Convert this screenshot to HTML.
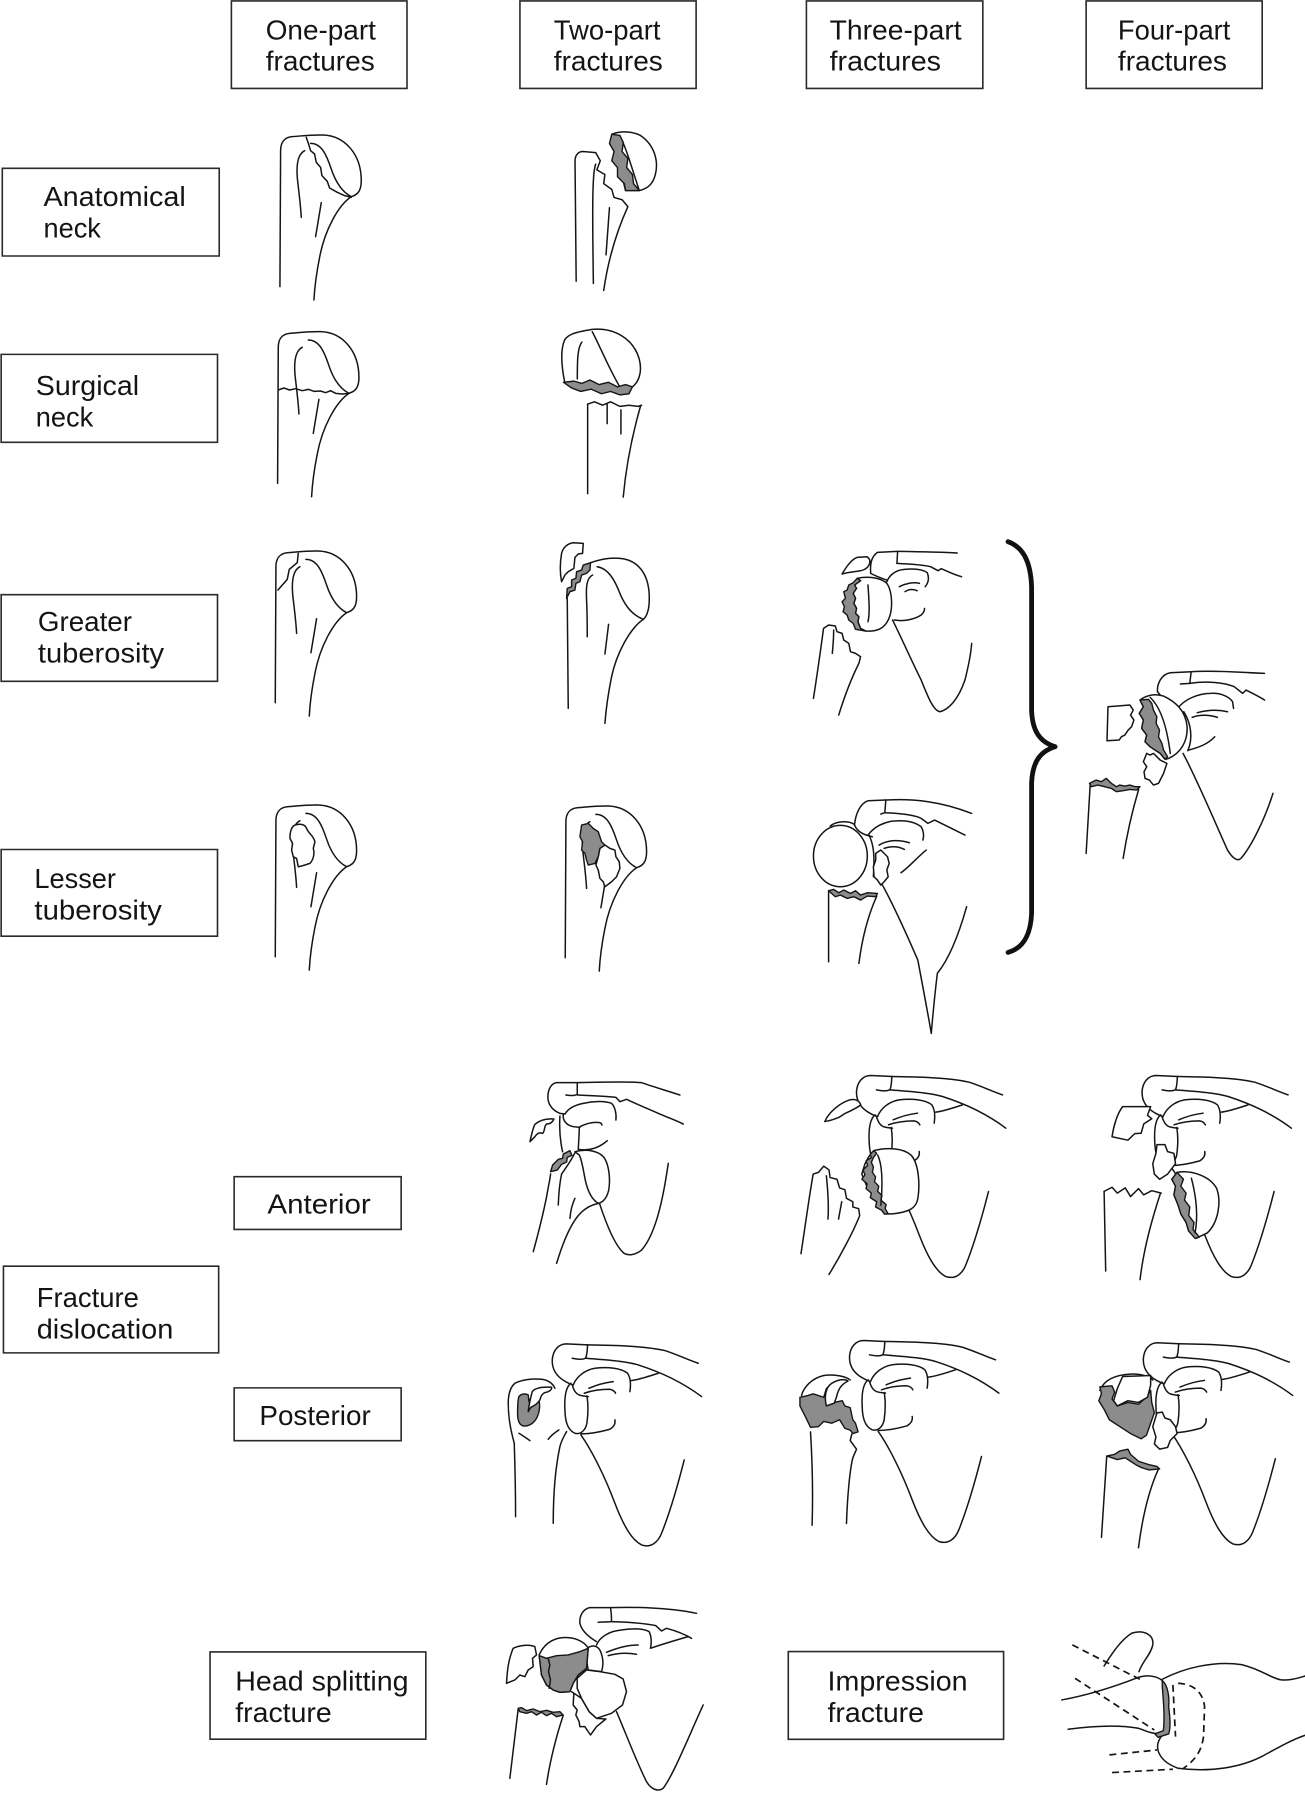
<!DOCTYPE html>
<html><head><meta charset="utf-8">
<style>
html,body{margin:0;padding:0;background:#fff;}
svg{display:block}
.b{fill:none;stroke:#151515;stroke-width:1.5px;vector-effect:non-scaling-stroke;stroke-linejoin:round;stroke-linecap:round}
.w{fill:#fff;stroke:#151515;stroke-width:1.5px;vector-effect:non-scaling-stroke;stroke-linejoin:round}
.g{fill:#8c8c8c;stroke:#151515;stroke-width:1.4px;vector-effect:non-scaling-stroke;stroke-linejoin:round}
.d{fill:none;stroke:#151515;stroke-width:1.5px;stroke-dasharray:6 4}
.bx{fill:#fff;stroke:#2a2a2a;stroke-width:1.6px;vector-effect:non-scaling-stroke}
text{font-family:"Liberation Sans",Arial,sans-serif;font-size:24.5px;fill:#141414}
</style></head>
<body>
<svg width="1305" height="1800" viewBox="0 0 1137 1568" preserveAspectRatio="none">
<defs>
<g id="hum">
<path class="b" d="M226,548 L228,140 C228,115 240,100 262,98 C290,96 320,92 355,93 C420,95 470,150 470,230 C470,260 460,272 440,278 C400,305 360,380 345,460 C335,510 330,550 328,588"/>
<path class="b" d="M318,118 C350,118 365,150 380,195 C395,240 415,265 440,278"/>
<path class="b" d="M300,140 C280,150 275,180 278,220 C282,260 288,300 290,340"/>
<path class="b" d="M350,296 L333,398"/>
</g>
<g id="scap">
<path class="b" d="M278,45 L215,42 C190,42 174,62 172,90 C171,118 185,140 212,155 C220,160 228,163 235,165"/>
<path class="b" d="M278,45 C277,60 277,75 272,85 C262,90 245,88 232,85"/>
<path class="b" d="M278,45 C350,46 450,48 510,62 C550,75 580,90 610,100"/>
<path class="b" d="M272,85 C330,90 390,93 430,105 C470,118 500,130 530,145 C570,165 600,185 620,200"/>
<path class="b" d="M235,165 C245,140 270,120 300,115 C340,110 380,115 398,130 C408,145 408,165 405,185"/>
<path class="b" d="M408,152 C430,150 460,140 490,130"/>
<path class="b" d="M268,190 C290,182 315,178 345,178 C355,180 360,186 362,190"/>
<path class="b" d="M282,175 C305,165 330,158 355,155"/>
<path class="b" d="M228,160 C212,172 208,200 210,240 C211,275 218,300 240,310 C258,315 272,300 276,280 C280,250 280,220 276,198"/>
<path class="b" d="M232,165 C236,180 242,192 255,196 C265,199 272,199 280,200"/>
<path class="b" d="M258,312 C290,312 320,305 345,298 C358,290 362,280 360,270"/>
<path class="b" d="M258,315 C290,360 330,440 360,520 C385,585 410,630 440,645 C470,655 490,635 500,610 C520,560 545,480 568,390"/>
</g>
</defs>

<!-- Header boxes -->
<rect class="bx" x="201.6" y="0.8" width="153" height="76.2"/>
<text x="231.5" y="34.3" textLength="96" lengthAdjust="spacingAndGlyphs">One-part</text><text x="231.5" y="61.3" textLength="95" lengthAdjust="spacingAndGlyphs">fractures</text>
<rect class="bx" x="453" y="0.8" width="153.5" height="76.2"/>
<text x="482.5" y="34.3" textLength="93" lengthAdjust="spacingAndGlyphs">Two-part</text><text x="482.5" y="61.3" textLength="95" lengthAdjust="spacingAndGlyphs">fractures</text>
<rect class="bx" x="702.6" y="0.8" width="153.7" height="76.2"/>
<text x="722.8" y="34.3" textLength="115" lengthAdjust="spacingAndGlyphs">Three-part</text><text x="722.8" y="61.3" textLength="97" lengthAdjust="spacingAndGlyphs">fractures</text>
<rect class="bx" x="946.3" y="0.8" width="153.4" height="76.2"/>
<text x="974" y="34.3" textLength="98" lengthAdjust="spacingAndGlyphs">Four-part</text><text x="974" y="61.3" textLength="95" lengthAdjust="spacingAndGlyphs">fractures</text>

<!-- Side boxes -->
<rect class="bx" x="2" y="146.6" width="189" height="76.4"/>
<text x="37.9" y="179.5" textLength="124" lengthAdjust="spacingAndGlyphs">Anatomical</text><text x="37.9" y="206.7" textLength="50" lengthAdjust="spacingAndGlyphs">neck</text>
<rect class="bx" x="1" y="308.7" width="188.5" height="76.6"/>
<text x="31.2" y="344" textLength="90" lengthAdjust="spacingAndGlyphs">Surgical</text><text x="31.2" y="371.7" textLength="50" lengthAdjust="spacingAndGlyphs">neck</text>
<rect class="bx" x="1" y="518" width="188.5" height="75.5"/>
<text x="33" y="549.5" textLength="82" lengthAdjust="spacingAndGlyphs">Greater</text><text x="33" y="577" textLength="110" lengthAdjust="spacingAndGlyphs">tuberosity</text>
<rect class="bx" x="1" y="740" width="188.5" height="75.5"/>
<text x="30" y="773.5" textLength="71" lengthAdjust="spacingAndGlyphs">Lesser</text><text x="30" y="801" textLength="111" lengthAdjust="spacingAndGlyphs">tuberosity</text>
<rect class="bx" x="204" y="1025" width="145.5" height="46"/>
<text x="233" y="1057" textLength="90" lengthAdjust="spacingAndGlyphs">Anterior</text>
<rect class="bx" x="3" y="1103" width="187.5" height="75.5"/>
<text x="32" y="1138.5" textLength="89" lengthAdjust="spacingAndGlyphs">Fracture</text><text x="32" y="1166" textLength="119" lengthAdjust="spacingAndGlyphs">dislocation</text>
<rect class="bx" x="204" y="1209" width="145.5" height="46"/>
<text x="226" y="1241.5" textLength="97" lengthAdjust="spacingAndGlyphs">Posterior</text>
<rect class="bx" x="183" y="1439" width="188" height="76"/>
<text x="205" y="1472.5" textLength="151" lengthAdjust="spacingAndGlyphs">Head splitting</text><text x="205" y="1500" textLength="84" lengthAdjust="spacingAndGlyphs">fracture</text>
<rect class="bx" x="686.8" y="1438.7" width="187.6" height="76.4"/>
<text x="721" y="1472.5" textLength="122" lengthAdjust="spacingAndGlyphs">Impression</text><text x="721" y="1500" textLength="84" lengthAdjust="spacingAndGlyphs">fracture</text>

<!-- Humeri cols 1-2 (zoom4 units) -->
<g transform="translate(174.2,453) scale(0.2904)">
  <g transform="translate(14,-1248)">
    <use href="#hum"/>
    <path class="b" d="M305,100 L312,120 L318,140 L330,150 L335,175 L348,190 L352,215 L368,232 L375,252 L398,265 L420,275 L440,280"/>
  </g>
  <g transform="translate(7,-658)">
    <use href="#hum"/>
    <path class="b" d="M228,268 L245,262 L262,268 L280,264 L300,270 L318,266 L335,272 L355,271 L370,276 L385,270 L400,278 L420,280 L440,278"/>
  </g>
  <use href="#hum"/>
  <path class="b" d="M295,100 L292,128 L268,148 L262,178 L234,210"/>
  <g transform="translate(0,762)">
    <use href="#hum"/>
    <path class="w" d="M285,153 C300,148 315,150 320,163 C325,178 340,183 345,203 L340,223 C345,238 340,258 330,268 C315,273 300,278 295,278 L290,253 L280,248 L275,228 L278,208 L270,193 C270,173 275,158 285,153 Z"/>
  </g>
  <!-- col2 greater -->
  <path class="b" d="M1105,565 L1102,235"/>
  <path class="b" d="M1172,128 C1200,118 1230,112 1260,115 C1320,120 1350,170 1348,240 C1348,270 1340,290 1330,298 C1290,325 1250,400 1235,470 C1225,520 1218,570 1215,610"/>
  <path class="b" d="M1192,140 C1225,145 1245,180 1262,225 C1280,265 1300,285 1330,298"/>
  <path class="b" d="M1178,165 C1160,175 1158,200 1160,240 C1162,280 1162,320 1162,350"/>
  <path class="b" d="M1226,313 L1215,402"/>
  <path class="g" d="M1100,235 L1102,205 L1115,200 L1115,180 L1128,175 L1130,155 L1145,150 L1150,135 L1172,128 L1170,150 L1160,160 L1145,165 L1140,185 L1128,190 L1125,210 L1110,215 Z"/>
  <path class="w" d="M1085,185 C1080,160 1080,130 1085,100 C1090,80 1105,70 1120,68 L1150,70 L1148,100 L1135,102 L1125,112 L1122,145 L1105,155 L1095,165 Z"/>
  <!-- col2 lesser -->
  <g transform="translate(870,765)"><use href="#hum"/></g>
  <path class="w" d="M1215,975 L1230,985 L1245,990 L1248,1010 L1258,1025 L1260,1045 L1250,1070 L1235,1085 L1215,1100 L1210,1085 L1200,1075 L1195,1050 L1188,1035 L1195,1010 L1200,985 Z"/>
  <path class="g" d="M1145,915 L1165,910 L1180,925 L1195,935 L1205,965 L1215,975 L1200,985 L1195,1010 L1185,1030 L1165,1035 L1160,1020 L1155,1000 L1145,990 L1148,965 L1140,950 Z"/>
</g>

<!-- col2 anatomical (ref coords) -->
<path class="b" d="M502,245 L501,140 C501,135 504,132 508,132 L519,133"/>
<path class="b" d="M519,133 L523,140 L520,148 L527,152 L526,160 L533,165 L535,172 L542,174 L547,180"/>
<path class="b" d="M547,180 C538,200 530,225 526,253"/>
<path class="b" d="M519,143 C516,150 516,180 517,247"/>
<path class="b" d="M531,181 L528,222"/>
<path class="w" d="M533,117 C540,114 550,114 558,118 C570,126 574,140 571,152 C569,160 565,164 557,166 L545,166 Z"/>
<path class="b" d="M540,118 C546,130 550,145 557,166"/>
<path class="g" d="M533,117 L531,125 L535,132 L533,140 L538,146 L538,154 L544,160 L545,166 L557,166 L552,160 L551,152 L546,146 L547,138 L542,132 L543,124 L540,118 Z"/>

<!-- col2 surgical (ref coords) -->
<path class="b" d="M492,333 C489,318 488,305 492,296 C496,290 505,289 515,287 C535,285 552,295 557,313 C560,325 556,333 551,337"/>
<path class="b" d="M516,289 C522,300 530,320 540,337"/>
<path class="b" d="M507,298 C503,303 503,315 503,330"/>
<path class="g" d="M491,333 L500,332 L507,334 L514,331 L522,335 L530,333 L538,337 L545,335 L551,337 L548,343 L540,344 L532,341 L524,343 L515,339 L506,341 L498,338 Z"/>
<path class="b" d="M512,352 L518,350 L525,353 L532,350 L540,354 L548,353 L556,354 L559,353"/>
<path class="b" d="M512,352 L512,430"/>
<path class="b" d="M558,354 C552,375 546,400 543,433"/>
<path class="b" d="M529,352 L529,369"/>
<path class="b" d="M541,357 L541,378"/>

<!-- Upper three-/four-part drawings (zoom3 units) -->
<g transform="translate(679.4,453) scale(0.2933,0.2904)">
  <!-- three-part greater -->
  <path class="b" d="M270,160 C268,130 272,110 290,97 L350,94"/>
  <path class="b" d="M350,94 C420,95 480,96 527,99"/>
  <path class="b" d="M350,94 L348,130"/>
  <path class="b" d="M348,130 C390,132 425,134 448,140 L470,152 L480,146 C500,155 520,165 540,170"/>
  <path class="b" d="M270,160 C285,168 300,174 318,180"/>
  <path class="b" d="M318,185 C325,165 345,150 370,148 C400,145 425,148 438,158 C445,175 440,190 432,200"/>
  <path class="b" d="M355,200 C370,192 395,185 415,190"/>
  <path class="b" d="M372,215 C385,205 400,208 408,212"/>
  <path class="b" d="M340,300 C370,305 400,298 420,285 C428,278 430,270 430,265"/>
  <path class="b" d="M335,300 C360,350 390,420 420,480 C440,530 455,570 475,575 C500,570 530,540 550,480 C560,440 568,400 570,370"/>
  <path class="w" d="M230,175 C260,168 300,172 318,190 C335,215 337,270 322,300 C310,325 290,335 255,333 L240,325 L232,305 L235,290 L225,280 L228,265 L220,250 L225,235 L218,220 L228,205 L222,195 L240,182 Z"/>
  <path class="g" d="M230,175 L218,188 L205,195 L200,210 L190,215 L195,235 L185,245 L192,260 L188,275 L200,285 L205,300 L218,310 L225,328 L255,333 L240,325 L232,305 L235,290 L225,280 L228,265 L220,250 L225,235 L218,220 L228,205 L222,195 L240,182 Z"/>
  <path class="b" d="M262,195 C265,240 268,280 262,305"/>
  <path class="w" d="M185,162 C195,145 210,120 230,112 L258,110 C268,115 270,125 265,135 C260,145 250,150 240,152 L200,158 Z"/>
  <path class="b" d="M100,535 C110,470 120,400 130,325 L145,315 L165,318 L170,335 L185,340 L190,360 L205,370 L210,395 L225,400 L240,410 L235,430 C215,470 195,520 175,585"/>
  <path class="b" d="M160,330 C160,360 158,380 156,400"/>

  <!-- three-part lesser -->
  <path class="b" d="M222,915 C225,880 240,850 262,842 L315,840"/>
  <path class="b" d="M315,840 C400,835 480,845 570,880"/>
  <path class="b" d="M315,840 L312,878 L300,882"/>
  <path class="b" d="M312,878 C360,880 400,885 420,895 L440,910 L460,900 C490,915 520,930 550,945"/>
  <path class="b" d="M222,915 C230,935 250,945 275,950"/>
  <path class="b" d="M262,945 C280,920 310,905 340,903 C370,900 400,905 420,920 C428,935 428,950 425,960"/>
  <path class="b" d="M295,975 C320,960 350,958 385,968"/>
  <path class="b" d="M310,985 C330,978 350,978 370,988"/>
  <path class="b" d="M360,1058 C385,1040 410,1010 435,990"/>
  <path class="b" d="M265,945 C280,975 282,1010 278,1070"/>
  <path class="b" d="M150,918 C165,905 200,900 220,912"/>
  <ellipse class="w" cx="180" cy="1008" rx="80" ry="92"/>
  <path class="w" d="M285,1000 L300,990 L310,1000 L320,1010 L325,1030 L318,1050 L322,1070 L310,1085 L300,1095 L290,1080 L280,1070 L278,1040 L285,1020 Z"/>
  <path class="g" d="M145,1112 L160,1108 L175,1118 L190,1110 L210,1120 L225,1112 L240,1125 L260,1118 L290,1120 L285,1130 L260,1128 L240,1140 L220,1130 L200,1135 L180,1125 L165,1130 Z"/>
  <path class="b" d="M145,1112 L145,1325"/>
  <path class="b" d="M288,1128 C265,1180 245,1250 235,1330"/>
  <path class="b" d="M305,1095 C340,1160 380,1250 410,1320 C425,1400 440,1480 450,1540 C455,1480 462,1410 468,1360 C500,1320 530,1250 555,1160"/>

  <!-- four-part -->
  <path class="b" d="M1122,515 C1120,490 1135,462 1160,458 L1222,455"/>
  <path class="b" d="M1222,455 C1300,450 1380,458 1440,460"/>
  <path class="b" d="M1222,455 L1218,490 L1190,492"/>
  <path class="b" d="M1218,490 C1270,482 1320,488 1350,500 L1375,520 L1385,510 C1405,520 1425,530 1440,540"/>
  <path class="b" d="M1122,515 C1140,540 1160,555 1182,565"/>
  <path class="b" d="M1182,565 C1200,540 1240,520 1280,520 C1310,518 1335,530 1345,545 L1348,565"/>
  <path class="b" d="M1240,578 C1270,570 1300,568 1330,575"/>
  <path class="b" d="M1225,592 C1250,582 1280,585 1300,592"/>
  <path class="b" d="M1215,690 C1245,682 1272,672 1292,650"/>
  <path class="b" d="M1200,575 C1222,610 1228,655 1212,692"/>
  <path class="b" d="M1198,700 C1240,780 1290,900 1330,990 C1345,1015 1360,1025 1370,1015 C1400,980 1440,900 1465,820"/>
  <path class="w" d="M1070,540 C1090,525 1115,520 1140,528 C1175,545 1205,570 1210,620 C1212,665 1190,700 1155,715 L1145,718 L1130,700 L1115,690 L1100,680 L1085,665 L1090,645 L1075,625 L1080,600 L1068,580 L1080,560 Z"/>
  <path class="g" d="M1070,540 L1080,560 L1068,580 L1080,600 L1075,625 L1090,645 L1085,665 L1100,680 L1115,690 L1130,700 L1145,718 L1152,710 L1140,690 L1135,670 L1125,650 L1128,630 L1118,610 L1120,590 L1110,570 L1105,550 L1095,538 Z"/>
  <path class="b" d="M1100,532 C1130,560 1150,620 1160,700"/>
  <path class="w" d="M975,560 L1040,555 L1050,570 L1042,585 L1052,600 L1045,620 L1035,630 L1025,645 L1015,650 L1008,660 L972,662 Z"/>
  <path class="w" d="M1090,700 L1100,705 L1110,700 L1120,710 L1130,720 L1150,730 L1140,760 L1125,790 L1110,795 L1098,780 L1085,775 L1082,755 L1090,740 L1080,725 Z"/>
  <path class="g" d="M920,790 L940,780 L955,785 L970,775 L985,790 L1000,800 L1010,795 L1025,798 L1040,795 L1055,800 L1070,800 L1060,810 L1040,808 L1020,812 L1000,815 L985,805 L965,800 L945,795 L925,800 Z"/>
  <path class="b" d="M922,795 L910,1000"/>
  <path class="b" d="M1066,808 C1045,880 1030,950 1020,1015"/>

  <!-- brace -->
  <path d="M678,65 C720,80 745,120 748,200 L748,570 C750,630 770,665 818,680 C770,695 750,730 748,790 L748,1180 C745,1250 720,1285 678,1297" fill="none" stroke="#111" stroke-width="4.8" style="vector-effect:non-scaling-stroke" stroke-linecap="round" stroke-linejoin="round"/>
</g>

<!-- Scapula templates for dislocation rows -->
<use href="#scap" transform="translate(696.3,924.7) scale(0.2904)"/>
<use href="#scap" transform="translate(945.1,924.7) scale(0.2904)"/>
<use href="#scap" transform="translate(431.2,1158.5) scale(0.2904)"/>
<use href="#scap" transform="translate(690.2,1155.5) scale(0.2904)"/>
<use href="#scap" transform="translate(946.2,1157.5) scale(0.2904)"/>

<!-- Posterior two-part humerus (zoom8 units) -->
<g transform="translate(431.2,1158.5) scale(0.2904)">
  <path class="b" d="M62,560 C62,480 60,400 58,340 C50,310 40,270 40,220 C40,190 48,170 60,160 C80,150 110,145 140,148 C160,150 175,162 180,175"/>
  <path class="b" d="M175,580 C175,500 180,420 195,350 C200,330 208,318 215,305"/>
  <path class="b" d="M72,310 C85,318 95,325 105,332"/>
  <path class="b" d="M160,328 C170,315 180,308 192,300"/>
  <path class="g" d="M72,200 C78,192 90,190 100,195 L102,215 C108,200 118,195 128,205 C138,220 135,245 125,265 C115,282 100,290 85,288 C72,285 68,270 68,250 C68,230 68,212 72,200 Z"/>
  <path class="w" d="M100,245 C102,225 108,200 112,185 C120,175 140,170 170,172 C172,178 165,185 150,188 C140,192 138,200 135,210 C128,222 118,228 108,232 Z"/>
</g>

<!-- Dislocation rows humerus parts (zoom5 units) -->
<g transform="translate(418.1,923.3) scale(0.4609,0.3014)">
  <!-- anterior three-part -->
  <path class="w" d="M652,178 C660,150 680,125 700,115 C712,112 718,120 720,130 C712,140 700,148 690,155 L680,165 C672,170 665,175 652,178 Z"/>
  <path class="w" d="M745,262 C770,252 800,255 815,275 C830,300 832,360 828,400 C825,430 810,440 780,445 L772,445 L762,440 L755,420 L745,400 L738,380 L730,360 L722,330 L728,300 L735,280 Z"/>
  <path class="g" d="M745,262 L738,272 L740,282 L730,292 L733,305 L724,318 L728,332 L722,345 L732,358 L730,372 L740,385 L738,398 L750,410 L748,425 L760,435 L765,446 L772,445 L766,430 L768,418 L758,405 L760,392 L752,380 L754,365 L746,352 L748,338 L742,325 L744,310 L740,296 L744,282 L750,270 Z"/>
  <path class="b" d="M752,275 C760,300 762,350 758,420"/>
  <path class="b" d="M607,560 C615,480 622,400 630,330 L640,325 L650,307 L660,318 L662,340 L675,345 L680,370 L690,375 L693,400 L705,410 L705,425 L716,430 L718,450 C705,500 680,570 660,620"/>
  <path class="b" d="M655,335 C658,380 660,420 658,460"/>
  <path class="b" d="M684,410 L678,460"/>

  <!-- anterior four-part -->
  <path class="w" d="M1195,222 C1198,190 1205,155 1215,135 L1268,135 L1262,160 L1270,170 L1255,185 L1250,212 L1238,213 L1225,232 Z"/>
  <path class="w" d="M1280,245 L1295,245 L1300,265 L1312,270 L1315,300 L1300,330 L1285,345 L1275,330 L1272,300 L1278,270 Z"/>
  <path class="w" d="M1318,325 C1345,318 1380,335 1393,372 C1402,410 1396,470 1375,500 L1355,515 L1340,495 L1335,470 L1325,445 L1320,420 L1312,390 L1315,365 L1308,345 Z"/>
  <path class="g" d="M1318,325 L1330,345 L1325,365 L1335,385 L1332,405 L1342,425 L1340,450 L1350,470 L1348,490 L1360,512 L1352,516 L1340,495 L1335,470 L1325,445 L1320,420 L1312,390 L1315,365 L1308,345 Z"/>
  <path class="b" d="M1345,342 C1355,400 1358,450 1352,500"/>
  <path class="b" d="M1180,380 L1195,368 L1205,385 L1220,370 L1230,395 L1245,372 L1255,390 L1270,378 L1288,385"/>
  <path class="b" d="M1183,610 L1180,380"/>
  <path class="b" d="M1248,635 C1252,580 1262,500 1286,388"/>

  <!-- posterior three-part -->
  <path class="b" d="M628,1345 C630,1250 628,1150 625,1075"/>
  <path class="b" d="M608,970 C612,945 628,920 650,912 C672,908 692,915 700,925"/>
  <path class="g" d="M605,975 L620,970 L630,965 L650,975 L655,950 L665,935 L690,925 L678,940 L672,975 L670,990 L685,985 L690,1000 L700,1005 L705,1040 L710,1050 L715,1075 L705,1080 L700,1070 L690,1065 L680,1040 L665,1050 L650,1045 L640,1060 L625,1062 L615,1030 L605,1000 Z"/>
  <path class="w" d="M655,1000 C650,970 655,945 665,935 C675,925 688,920 696,928 C686,936 678,946 674,975 L670,992 Z"/>
  <path class="b" d="M693,1340 C695,1250 700,1180 705,1150 L712,1125 L700,1100 L703,1082"/>

  <!-- posterior four-part -->
  <path class="b" d="M1172,955 C1180,925 1200,910 1230,908 C1250,906 1265,915 1272,925"/>
  <path class="g" d="M1172,945 L1195,942 L1200,960 L1195,980 L1205,1000 L1225,990 L1245,995 L1260,975 L1268,955 L1270,990 L1275,1020 L1268,1050 L1260,1085 L1250,1095 L1230,1080 L1210,1060 L1190,1040 L1180,1010 L1170,985 L1175,965 Z"/>
  <path class="w" d="M1198,985 L1205,950 L1215,915 L1268,912 L1268,940 L1262,975 L1245,990 L1225,985 L1205,1000 Z"/>
  <path class="w" d="M1280,1020 L1290,1018 L1295,1035 L1305,1040 L1315,1060 L1318,1080 L1305,1100 L1300,1120 L1285,1125 L1275,1110 L1278,1090 L1272,1060 Z"/>
  <path class="g" d="M1185,1145 L1200,1140 L1210,1130 L1225,1125 L1230,1140 L1245,1160 L1255,1165 L1265,1170 L1280,1175 L1285,1182 L1265,1185 L1250,1178 L1240,1170 L1230,1160 L1220,1150 L1205,1155 Z"/>
  <path class="b" d="M1175,1380 L1185,1145"/>
  <path class="b" d="M1245,1410 C1250,1350 1260,1260 1282,1185"/>
</g>

<!-- Anterior two-part (zoom9 units) -->
<g transform="translate(453,932.1) scale(0.2904)">
  <path class="b" d="M172,38 L110,38 C95,40 86,55 84,75 C82,100 95,120 120,130 L135,132"/>
  <path class="b" d="M172,38 L172,72 C165,78 150,77 138,75"/>
  <path class="b" d="M172,38 C250,36 330,34 365,38 C400,50 440,62 480,75"/>
  <path class="b" d="M172,75 C220,77 260,78 288,82 L300,95 L320,88 C345,100 380,115 420,132 C450,145 470,152 490,162"/>
  <path class="b" d="M135,132 C145,115 165,105 190,100 C220,93 255,92 275,100 C285,110 290,130 288,150"/>
  <path class="b" d="M130,135 C128,150 138,165 160,170 L180,172"/>
  <path class="b" d="M180,170 C200,160 220,155 240,158 C245,160 246,163 246,165"/>
  <path class="b" d="M120,138 C118,170 120,210 128,245"/>
  <path class="b" d="M178,175 C178,195 176,215 175,238 C200,242 230,240 262,212"/>
  <path class="b" d="M238,398 C255,450 280,520 310,548 C325,558 345,556 365,540 C400,500 425,420 445,280"/>
  <path class="w" d="M165,245 C200,236 235,242 252,262 C268,285 272,330 266,362 C260,385 250,396 236,400 C220,392 205,370 196,330 C190,300 186,270 178,255 Z"/>
  <path class="b" d="M40,545 C55,490 70,430 80,380 C85,350 90,330 92,312"/>
  <path class="b" d="M110,580 C125,530 145,480 165,450 C185,420 210,405 236,400"/>
  <path class="b" d="M115,405 C116,375 118,345 125,312"/>
  <path class="b" d="M150,445 C152,420 158,400 165,385"/>
  <path class="b" d="M125,312 C140,290 155,270 165,248"/>
  <path class="g" d="M92,305 L98,285 L115,268 L128,265 L130,252 L150,242 L156,256 L142,262 L140,276 L125,283 L112,300 Z"/>
  <path class="w" d="M30,215 C35,195 38,175 45,163 C60,150 80,145 102,147 C98,156 90,162 80,162 C72,168 75,185 68,190 C58,186 50,192 45,200 Z"/>
</g>

<!-- Head splitting (zoom10 units) -->
<g transform="translate(435.5,1389.4) scale(0.2904)">
  <path class="b" d="M332,38 L270,38 C250,42 238,62 240,85 C245,105 265,125 290,140"/>
  <path class="b" d="M332,38 C335,55 335,70 335,80 C320,82 305,80 295,82"/>
  <path class="b" d="M332,38 C420,35 520,40 590,55"/>
  <path class="b" d="M335,80 C400,82 440,86 468,92 L485,108 L500,100 C530,108 555,118 575,130"/>
  <path class="b" d="M290,150 C300,125 330,108 365,105 C400,100 430,100 448,110 C455,125 455,145 452,160 C475,152 520,138 565,125"/>
  <path class="b" d="M320,172 C350,160 380,150 415,150"/>
  <path class="b" d="M325,182 C350,175 380,172 410,178"/>
  <path class="b" d="M350,350 C380,420 410,500 440,560 C455,585 475,590 490,580 C520,540 560,440 610,330"/>
  <path class="w" d="M262,160 C275,150 290,150 300,165 C310,185 312,210 305,230 L265,225 L260,195 Z"/>
  <path class="w" d="M215,290 L222,295 L220,330 L232,345 L228,360 L238,380 L240,395 L255,395 L272,420 L290,395 L318,372 L290,370 L268,350 L245,310 Z"/>
  <path class="w" d="M232,250 L260,225 L300,230 L345,238 L370,252 L380,290 L368,330 L335,355 L290,370 L268,350 L245,310 L232,280 Z"/>
  <path class="w" d="M118,180 C135,140 170,125 205,128 C235,130 258,145 265,160 L260,220 L235,240 L220,265 L210,290 L180,292 L160,285 L140,270 L125,240 Z"/>
  <path class="g" d="M118,182 L140,190 L170,182 L205,180 L240,170 L265,160 L260,220 L235,240 L220,265 L210,290 L180,292 L160,285 L140,270 L125,240 Z"/>
  <path class="b" d="M145,190 L150,210 L146,230 L152,255 L148,280"/>
  <path class="w" d="M20,265 C22,230 25,195 40,160 C60,150 90,148 105,155 L110,180 L98,190 L100,215 L85,225 L75,245 L60,240 L45,255 Z"/>
  <path class="g" d="M55,340 L60,350 L80,355 L95,350 L110,360 L125,352 L140,362 L155,355 L170,365 L190,360 L180,350 L160,352 L140,346 L120,350 L100,342 L80,347 L65,338 Z"/>
  <path class="b" d="M30,550 L55,342"/>
  <path class="b" d="M140,568 C150,500 170,420 190,362"/>
</g>

<!-- Axial impression view (zoom7 units) -->
<g transform="translate(418.1,1385) scale(0.4609,0.2904)">
  <path class="b" d="M1180,228 C1195,190 1212,150 1232,130 C1255,118 1275,135 1272,165 C1268,195 1252,215 1246,245"/>
  <path class="b" d="M1100,330 C1150,315 1200,290 1245,262 C1262,254 1280,258 1290,272"/>
  <path class="b" d="M1112,418 C1160,408 1210,405 1245,415 C1262,425 1272,432 1288,432"/>
  <path class="b" d="M1290,268 C1330,235 1385,212 1440,224 C1480,240 1495,265 1515,270 C1535,272 1550,262 1568,255"/>
  <path class="b" d="M1288,440 C1272,475 1285,515 1320,535 C1380,548 1440,532 1480,498 C1515,468 1540,445 1568,432"/>
  <path class="g" d="M1290,272 C1300,285 1304,320 1302,350 C1305,385 1306,415 1302,432 L1282,442 L1276,432 L1292,422 C1295,380 1292,330 1290,290 Z"/>
</g>
<path class="d" d="M934.3,1432.9 L994.2,1463.4"/>
<path class="d" d="M936.6,1462 L1005.7,1507"/>
<path class="d" d="M1026.5,1466.3 C1040,1467 1048,1474 1049.5,1486.6 L1048.6,1512.8 C1047,1524 1043,1532 1031.1,1540.4"/>
<path class="d" d="M1021.9,1467.8 L1024.2,1512.8"/>
<path class="d" d="M966.6,1528.7 L1008.1,1524.4"/>
<path class="d" d="M968.9,1544.1 L1021.9,1541.2"/>
</svg>
</body></html>
